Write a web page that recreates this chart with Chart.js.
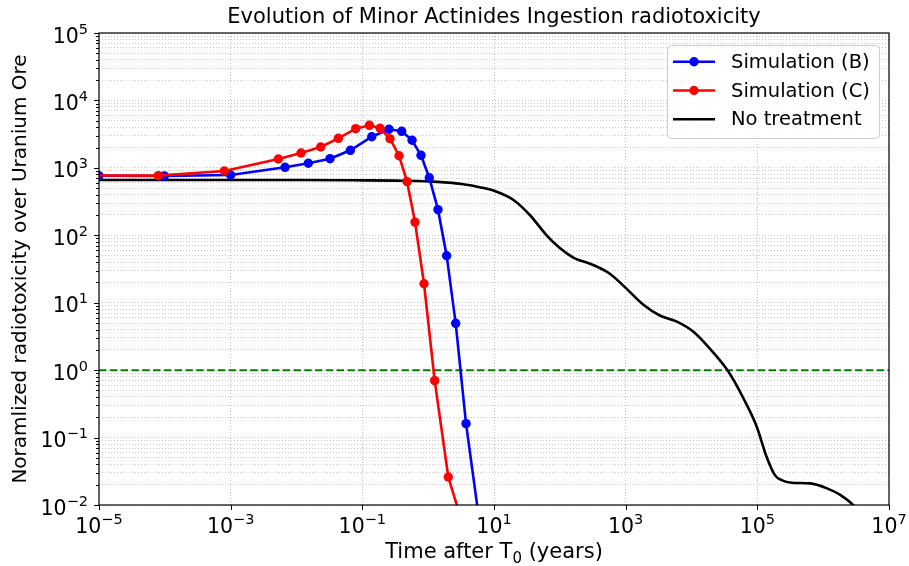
<!DOCTYPE html>
<html>
<head>
<meta charset="utf-8">
<script src="https://cdn.jsdelivr.net/npm/chart.js@4.4.1/dist/chart.umd.min.js"></script>
<style>
  html, body { margin: 0; padding: 0; background: #fff; }
</style>
</head>
<body>
<canvas id="graficoRadiotox" width="909" height="566"></canvas>
<script>
// Tempo (anos) e radiotoxicidade normalizada - Simulação (B)
const tempoB = [1e-5, 9.8e-5, 1.0e-3, 6.7e-3, 1.51e-2, 3.23e-2, 6.58e-2, 0.139, 0.254, 0.396, 0.569, 0.778, 1.04, 1.41, 1.91, 2.62, 3.76, 6.3];
const valoresB = [765, 759, 783, 1019, 1169, 1368, 1820, 2897, 3733, 3483, 2564, 1535, 714, 240, 49.8, 4.95, 0.161, 0.004];

// Simulação (C)
const tempoC = [5e-6, 7.96e-5, 8.0e-4, 5.3e-3, 1.17e-2, 2.33e-2, 4.32e-2, 7.93e-2, 0.128, 0.186, 0.263, 0.361, 0.478, 0.631, 0.865, 1.256, 2.02, 3.16];
const valoresC = [770, 766, 897, 1352, 1660, 2037, 2742, 3811, 4276, 3864, 2704, 1514, 624, 157, 19.1, 0.698, 0.026, 0.0062];

// Sem tratamento
const tempoSemTratamento = [1e-5, 1e-4, 1e-3, 1e-2, 0.1, 0.32, 1, 2, 3.2, 6.3, 10, 20, 35, 63, 100, 160, 320, 575, 1000, 1860, 3300, 6000, 10700, 19000, 36300, 61700, 98000, 138000, 186000, 234000, 331000, 631000, 1.12e6, 1.82e6, 3.0e6, 4.0e6];
const valoresSemTratamento = [661, 661, 661, 661, 653, 646, 631, 603, 575, 513, 457, 331, 200, 100, 64.6, 46.8, 36.3, 26.9, 16.6, 9.3, 6.46, 5.25, 3.72, 2.09, 0.955, 0.38, 0.145, 0.052, 0.0275, 0.0234, 0.0214, 0.0209, 0.0178, 0.0141, 0.0095, 0.0063];

// Nível do minério de urânio
const limiteMinerio = 1;

// Marcas dos eixos
const ticksX = [1e-5, 1e-3, 1e-1, 1e1, 1e3, 1e5, 1e7];
const decadasY = [1e-2, 1e-1, 1e0, 1e1, 1e2, 1e3, 1e4, 1e5];

const FONTE = '"DejaVu Sans"';

function expoente(v) {
    const e = Math.round(Math.log10(v));
    return Math.abs(Math.log10(v) - e) < 1e-6 ? e : null;
}
function pontos(xs, ys) {
    return xs.map((x, i) => ({ x: x, y: ys[i] }));
}

// ticks menores do eixo y (2..9 em cada década)
const ticksY = [];
decadasY.forEach((d, i) => {
    ticksY.push(d);
    if (i < decadasY.length - 1) {
        for (let m = 2; m <= 9; m++) ticksY.push(m * d);
    }
});

Chart.defaults.font.family = 'DejaVu Sans';
Chart.defaults.color = '#000';

// escreve 10^e com o expoente menor e elevado
function desenharPotencia(ctx, e, x, y, alinhamento) {
    const exp = String(e).replace('-', '\u2212');
    ctx.font = '20.5px ' + FONTE;
    const wBase = ctx.measureText('10').width;
    ctx.font = '14.5px ' + FONTE;
    const wExp = ctx.measureText(exp).width;
    const total = wBase + wExp;
    let x0 = x;
    if (alinhamento === 'center') x0 = x - total / 2;
    if (alinhamento === 'right') x0 = x - total;
    ctx.textAlign = 'left';
    ctx.textBaseline = 'alphabetic';
    ctx.font = '20.5px ' + FONTE;
    ctx.fillText('10', x0, y);
    ctx.font = '14.5px ' + FONTE;
    ctx.fillText(exp, x0 + wBase, y - 9);
}

// moldura, marcas e rótulos dos eixos, estilo matplotlib
const moldura = {
    id: 'moldura',
    afterDatasetsDraw(chart) {
        const { ctx, chartArea: a, scales } = chart;
        ctx.save();
        ctx.strokeStyle = '#000';
        ctx.lineWidth = 1;
        ctx.beginPath();
        ticksX.forEach(v => {
            const px = Math.round(scales.x.getPixelForValue(v)) + 0.5;
            ctx.moveTo(px, a.bottom);
            ctx.lineTo(px, a.bottom + 5);
        });
        ticksY.forEach(v => {
            const py = Math.round(scales.y.getPixelForValue(v)) + 0.5;
            const len = expoente(v) !== null ? 5 : 3;
            ctx.moveTo(a.left - len, py);
            ctx.lineTo(a.left, py);
        });
        ctx.stroke();
        ctx.lineWidth = 1.2;
        ctx.strokeRect(a.left, a.top, a.right - a.left, a.bottom - a.top);

        ctx.fillStyle = '#000';
        ticksX.forEach(v => {
            desenharPotencia(ctx, expoente(v), scales.x.getPixelForValue(v), a.bottom + 28, 'center');
        });
        decadasY.forEach(v => {
            desenharPotencia(ctx, expoente(v), a.left - 11, scales.y.getPixelForValue(v) + 9.5, 'right');
        });

        const centro = (a.left + a.right) / 2;

        // título centrado sobre a área do gráfico
        ctx.textAlign = 'center';
        ctx.font = '21px ' + FONTE;
        ctx.fillText('Evolution of Minor Actinides Ingestion radiotoxicity', centro, 22.7);
        ctx.textAlign = 'left';

        // título do eixo x com índice T0
        const partes = [['Time after T', 21, 0], ['0', 15, 4.5], [' (years)', 21, 0]];
        let larg = 0;
        partes.forEach(p => { ctx.font = p[1] + 'px ' + FONTE; larg += ctx.measureText(p[0]).width; });
        let xt = centro - larg / 2;
        partes.forEach(p => {
            ctx.font = p[1] + 'px ' + FONTE;
            ctx.fillText(p[0], xt, 558 + p[2]);
            xt += ctx.measureText(p[0]).width;
        });
        ctx.restore();
    }
};

// legenda dentro do gráfico, canto superior direito
const legenda = {
    id: 'legenda',
    afterDraw(chart) {
        const { ctx, chartArea: a } = chart;
        const itens = chart.data.datasets.filter(d => d.label);
        const w = 212, h = 93;
        const x0 = a.right - 10 - w, y0 = a.top + 12;
        ctx.save();
        ctx.fillStyle = 'rgba(255,255,255,0.85)';
        ctx.strokeStyle = '#cccccc';
        ctx.lineWidth = 1;
        ctx.beginPath();
        ctx.roundRect(x0 + 0.5, y0 + 0.5, w, h, 4);
        ctx.fill();
        ctx.stroke();
        ctx.font = '19.5px ' + FONTE;
        ctx.textBaseline = 'middle';
        itens.forEach((d, i) => {
            const y = y0 + 16.7 + i * 28.8;
            ctx.strokeStyle = d.borderColor;
            ctx.lineWidth = 2.6;
            ctx.beginPath();
            ctx.moveTo(x0 + 6, y);
            ctx.lineTo(x0 + 48, y);
            ctx.stroke();
            if (d.pointRadius > 0) {
                ctx.fillStyle = d.borderColor;
                ctx.beginPath();
                ctx.arc(x0 + 27, y, d.pointRadius, 0, Math.PI * 2);
                ctx.fill();
            }
            ctx.fillStyle = '#000';
            ctx.fillText(d.label, x0 + 64, y + 1);
        });
        ctx.restore();
    }
};

const ctxRadiotox = document.getElementById('graficoRadiotox').getContext('2d');
const graficoRadiotox = new Chart(ctxRadiotox, {
    type: 'line',
    data: {
        datasets: [{
            label: 'Simulation (B)',
            data: pontos(tempoB, valoresB),
            borderColor: '#0000ff',
            backgroundColor: '#0000ff',
            borderWidth: 2.6,
            pointRadius: 4.7,
            pointBorderWidth: 0,
            order: 1
        }, {
            label: 'Simulation (C)',
            data: pontos(tempoC, valoresC),
            borderColor: '#ff0000',
            backgroundColor: '#ff0000',
            borderWidth: 2.6,
            pointRadius: 4.7,
            pointBorderWidth: 0,
            order: 0
        }, {
            label: 'No treatment',
            data: pontos(tempoSemTratamento, valoresSemTratamento),
            borderColor: '#000000',
            borderWidth: 2.6,
            pointRadius: 0,
            cubicInterpolationMode: 'monotone',
            order: 2
        }, {
            label: '',
            data: pontos([ticksX[0], ticksX[ticksX.length - 1]], [limiteMinerio, limiteMinerio]),
            borderColor: '#008000',
            borderWidth: 2,
            borderDash: [7.5, 3.3],
            pointRadius: 0,
            order: 3
        }]
    },
    options: {
        responsive: false,
        devicePixelRatio: 1,
        animation: false,
        events: [],
        layout: { padding: { left: 0, right: 20, top: 33, bottom: 0 } },
        scales: {
            x: {
                type: 'logarithmic',
                min: 1e-5,
                max: 1e7,
                afterBuildTicks: s => { s.ticks = ticksX.map(v => ({ value: v })); },
                afterFit: s => { s.height = 61; },
                ticks: { display: false, autoSkip: false },
                grid: { color: '#b8b8b8', lineWidth: 0.8, drawTicks: false },
                border: { display: false, dash: [1, 2] }
            },
            y: {
                type: 'logarithmic',
                min: 1e-2,
                max: 1e5,
                afterBuildTicks: s => { s.ticks = ticksY.map(v => ({ value: v })); },
                afterFit: s => { s.width = 99; },
                ticks: { display: false, autoSkip: false },
                grid: { color: '#b8b8b8', lineWidth: 0.8, drawTicks: false },
                border: { display: false, dash: [1, 2] },
                title: {
                    display: true,
                    text: 'Noramlized radiotoxicity over Uranium Ore',
                    font: { size: 20 },
                    padding: { top: 8.3, bottom: 0 }
                }
            }
        },
        plugins: {
            legend: { display: false },
            tooltip: { enabled: false },
            title: { display: false }
        }
    },
    plugins: [moldura, legenda]
});
</script>
</body>
</html>
